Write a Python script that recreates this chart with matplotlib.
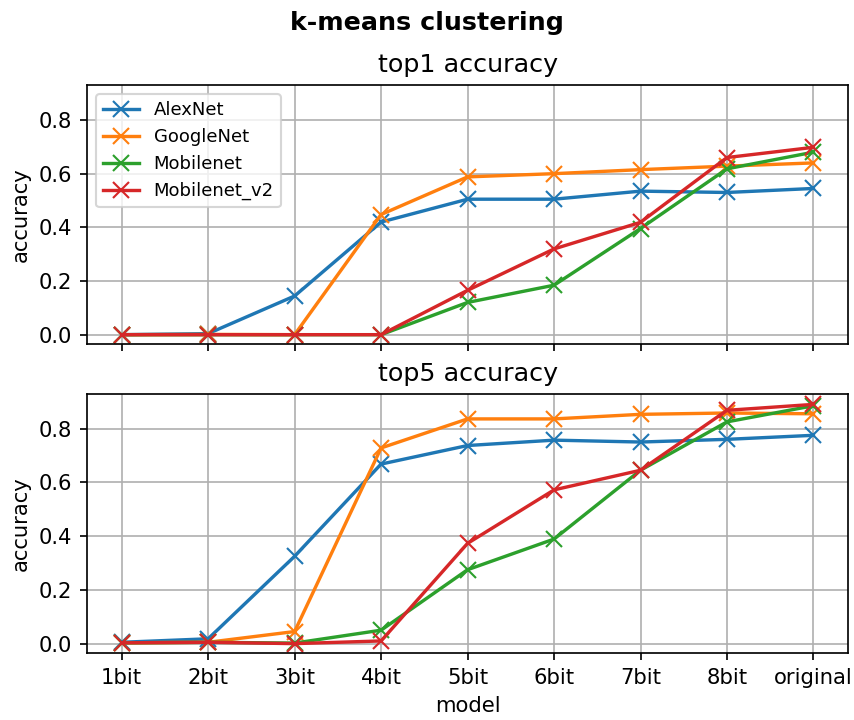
import matplotlib
matplotlib.use('Agg')
from matplotlib import pyplot as plt
import numpy as np

models = ["1bit", "2bit", "3bit", "4bit", "5bit", "6bit", "7bit", "8bit", "original"]
nets = ["AlexNet", "GoogleNet", "Mobilenet", "Mobilenet_v2"]

# top1 accuracy per network
top1_alexnet = [0.001, 0.005, 0.145, 0.42, 0.505, 0.505, 0.535, 0.53, 0.545]
top1_googlenet = [0.001, 0.002, 0.001, 0.448, 0.588, 0.6, 0.615, 0.628, 0.64]
top1_mobilenet = [0.001, 0.001, 0.001, 0.001, 0.121, 0.185, 0.396, 0.618, 0.68]
top1_mobilenet_v2 = [0.001, 0.001, 0.001, 0.001, 0.166, 0.32, 0.419, 0.66, 0.698]

# top5 accuracy per network
top5_alexnet = [0.005, 0.018, 0.325, 0.668, 0.737, 0.757, 0.75, 0.76, 0.775]
top5_googlenet = [0.003, 0.005, 0.045, 0.728, 0.836, 0.836, 0.853, 0.858, 0.855]
top5_mobilenet = [0.003, 0.005, 0.002, 0.05, 0.275, 0.389, 0.645, 0.825, 0.885]
top5_mobilenet_v2 = [0.003, 0.005, 0.0, 0.01, 0.373, 0.572, 0.645, 0.868, 0.89]

top1 = [top1_alexnet, top1_googlenet, top1_mobilenet, top1_mobilenet_v2]
top5 = [top5_alexnet, top5_googlenet, top5_mobilenet, top5_mobilenet_v2]

DPI = 152
fig, axes = plt.subplots(2, 1, figsize=(854 / DPI, 720 / DPI), dpi=DPI,
                         sharex=True, sharey=True)

for ax, data, title in zip(axes, [top1, top5], ["top1 accuracy", "top5 accuracy"]):
    for name, vals in zip(nets, data):
        ax.plot(models, vals, marker='x', markersize=8, linewidth=1.6, label=name)
    ax.set_title(title)
    ax.set_ylabel('accuracy')
    ax.grid(True)

axes[0].set_ylim(-0.035, 0.93)
axes[0].set_yticks(np.arange(0, 0.81, 0.2))
axes[0].legend(loc='upper left', fontsize=8.5)
axes[1].set_xlabel('model')
fig.suptitle('k-means clustering', fontweight='bold', y=0.985)
fig.subplots_adjust(left=0.102, right=0.993, top=0.882, bottom=0.093, hspace=0.19)
fig.savefig('out.png', dpi=DPI)
